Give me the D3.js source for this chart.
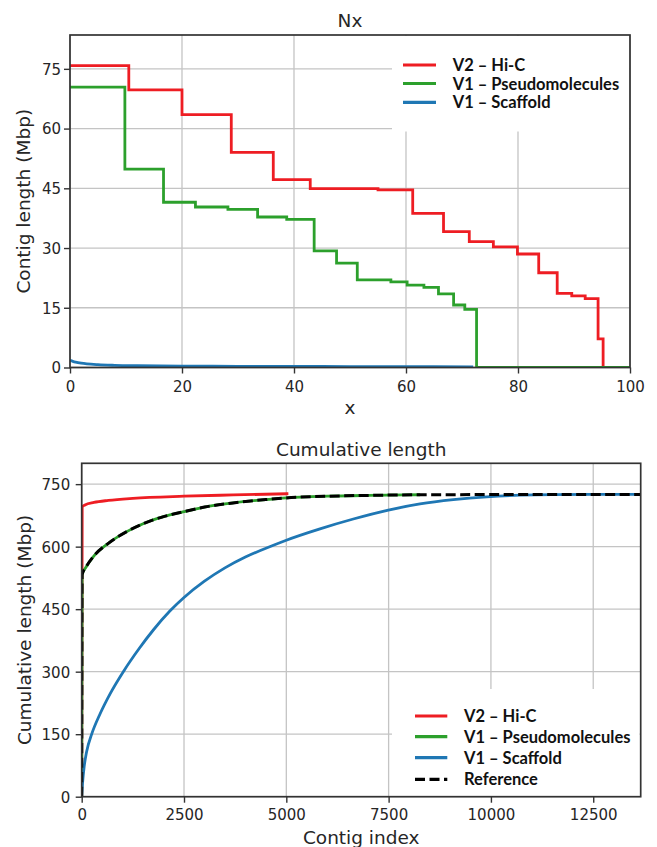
<!DOCTYPE html>
<html><head><meta charset="utf-8">
<script src="https://cdn.jsdelivr.net/npm/d3@7"></script>
<style>body{margin:0;background:#fff}svg{display:block}</style>
</head><body><svg id="c" width="657" height="847"></svg>
<script>
// ---------- Data: Nx panel ----------
const nxTicksX = [0, 20, 40, 60, 80, 100];
const nxTicksY = [0, 15, 30, 45, 60, 75];
const nxHicX = [0, 10.5, 20.0, 28.8, 36.3, 42.9, 55.0, 61.2, 66.7, 71.3, 75.6, 79.9, 83.7, 87.0, 89.6, 92.0, 94.3, 95.2, 100];
const nxHicV = [75.8, 69.7, 63.5, 54.0, 47.2, 44.9, 44.6, 38.7, 34.1, 31.6, 30.3, 28.5, 23.8, 18.6, 18.0, 17.3, 7.2, 0, 0];
const nxPseudoX = [0, 9.8, 16.7, 22.4, 28.2, 33.5, 38.7, 43.6, 47.6, 51.3, 57.3, 60.2, 63.2, 65.8, 68.5, 70.5, 72.6, 100];
const nxPseudoV = [70.4, 49.8, 41.5, 40.3, 39.7, 37.8, 37.2, 29.3, 26.2, 22.0, 21.5, 20.7, 20.1, 18.5, 15.7, 14.6, 0, 0];
const nxScafX = [0, 0.5, 1, 2, 3, 5, 8, 12, 20, 30, 45, 60, 72];
const nxScafV = [1.8, 1.55, 1.35, 1.08, 0.9, 0.7, 0.55, 0.45, 0.36, 0.3, 0.25, 0.2, 0.18];

// ---------- Data: Cumulative panel ----------
const cumTicksX = [0, 2500, 5000, 7500, 10000, 12500];
const cumTicksY = [0, 150, 300, 450, 600, 750];
const cumHicIdx = [0, 12, 80, 300, 650, 1250, 2500, 3700, 5050];
const cumHicV = [0, 695, 700, 706, 711, 716, 721, 724, 727];
const cumPseudoIdx = [0, 10, 100, 300, 650, 1100, 1500, 2000, 2500, 3000, 3700, 4500, 5000, 6000, 7000, 8270];
const cumPseudoV = [0, 533, 550, 578, 608, 636, 655, 672, 684, 695, 705, 713, 717, 721, 723, 724.5];
const cumScafIdx = [0, 25, 60, 120, 244, 450, 700, 1017, 1400, 1750, 2160, 2500, 3000, 3500, 4000, 4700, 5000, 5823, 6637, 7493, 8267, 9081, 9897, 10711, 11500, 12500, 13660];
const cumScafV = [0, 38, 72, 108, 150, 199, 248, 300, 355, 400, 446, 478, 517, 549, 575, 604, 615.5, 642.7, 666.3, 687.7, 702.4, 712.6, 719.5, 723.6, 725, 725.3, 725.4];
const cumRefIdx = [0, 10, 100, 300, 650, 1100, 1500, 2000, 2500, 3000, 3700, 4500, 5000, 6000, 7000, 8270, 13660];
const cumRefV = [0, 533, 550, 578, 608, 636, 655, 672, 684, 695, 705, 713, 717, 721, 723, 724.5, 725.4];

const legendNames = ["V2 \u2013 Hi-C", "V1 \u2013 Pseudomolecules", "V1 \u2013 Scaffold", "Reference"];
const C_RED = "#ee1d23", C_GREEN = "#2ca02c", C_BLUE = "#1f77b4", C_BLACK = "#000";

const svg = d3.select("#c");
svg.append("rect").attr("width", 657).attr("height", 847).attr("fill", "#fff");

const AX_FONT = "'DejaVu Sans', sans-serif";
const TXT = "#262626";

function panel(o) {
  const x = d3.scaleLinear().domain(o.xDomain).range([o.l, o.r]);
  const y = d3.scaleLinear().domain(o.yDomain).range([o.b, o.t]);
  const g = svg.append("g");
  const id = "clip" + o.name;
  svg.append("defs").append("clipPath").attr("id", id)
    .append("rect").attr("x", o.l).attr("y", o.t).attr("width", o.r - o.l).attr("height", o.b - o.t);
  // grid
  const grid = g.append("g").attr("stroke", "#c4c4c4").attr("stroke-width", 1.3);
  o.xTicks.forEach(v => grid.append("line").attr("x1", x(v)).attr("x2", x(v)).attr("y1", o.t).attr("y2", o.b));
  o.yTicks.forEach(v => grid.append("line").attr("x1", o.l).attr("x2", o.r).attr("y1", y(v)).attr("y2", y(v)));
  // legend background (covers grid)
  g.append("rect").attr("x", o.leg.x0).attr("y", o.leg.y0).attr("width", o.leg.x1 - o.leg.x0)
    .attr("height", o.leg.y1 - o.leg.y0).attr("fill", "#fff");
  // series
  const data = g.append("g").attr("clip-path", `url(#${id})`);
  o.series.forEach(s => {
    const pts = s.xs.map((xv, i) => [xv, s.vs[i]]);
    const line = d3.line().x(d => x(d[0])).y(d => y(d[1])).curve(s.curve);
    data.append("path").attr("d", line(pts)).attr("fill", "none")
      .attr("stroke", s.color).attr("stroke-width", s.width || 2.8)
      .attr("stroke-dasharray", s.dash || null).attr("stroke-linejoin", "miter");
  });
  // spines
  g.append("rect").attr("x", o.l).attr("y", o.t).attr("width", o.r - o.l).attr("height", o.b - o.t)
    .attr("fill", "none").attr("stroke", "#333").attr("stroke-width", 1.7);
  // axes ticks
  const xa = d3.axisBottom(x).tickValues(o.xTicks).tickSize(6).tickPadding(4).tickFormat(d3.format("d"));
  const ya = d3.axisLeft(y).tickValues(o.yTicks).tickSize(6).tickPadding(o.yPad).tickFormat(d3.format("d"));
  const gx = g.append("g").attr("transform", `translate(0,${o.b})`).call(xa);
  const gy = g.append("g").attr("transform", `translate(${o.l},0)`).call(ya);
  [gx, gy].forEach(a => {
    a.select(".domain").remove();
    a.selectAll("line").attr("stroke", "#333").attr("stroke-width", 1.4);
    a.selectAll("text").attr("font-family", AX_FONT).attr("font-size", 15).attr("fill", TXT);
  });
  gx.selectAll("text").attr("dy", null).attr("y", o.xTickBase - o.b);
  gy.selectAll("text").attr("dy", "0.36em");
  // title and labels
  const cx = (o.l + o.r) / 2, cy = (o.t + o.b) / 2;
  g.append("text").attr("x", cx).attr("y", o.titleY).attr("text-anchor", "middle")
    .attr("font-family", AX_FONT).attr("font-size", 18.5).attr("fill", TXT).text(o.title);
  g.append("text").attr("x", cx).attr("y", o.xLabelY).attr("text-anchor", "middle")
    .attr("font-family", AX_FONT).attr("font-size", 18.5).attr("fill", TXT).text(o.xLabel);
  g.append("text").attr("transform", `translate(${o.yLabelX},${cy}) rotate(-90)`).attr("text-anchor", "middle")
    .attr("font-family", AX_FONT).attr("font-size", 18.5).attr("fill", TXT).text(o.yLabel);
  // legend entries
  const lg = g.append("g");
  o.leg.items.forEach((it, i) => {
    const yy = o.leg.ys[i];
    lg.append("line").attr("x1", o.leg.sx0).attr("x2", o.leg.sx1).attr("y1", yy).attr("y2", yy)
      .attr("stroke", it.color).attr("stroke-width", 3.2).attr("stroke-dasharray", it.dash || null);
    lg.append("text").attr("x", o.leg.tx).attr("y", yy + 6).attr("font-family", "Lato, 'Open Sans', sans-serif")
      .attr("font-weight", 700).attr("font-size", 16.5).attr("fill", "#111").text(it.name);
  });
}

panel({
  name: "nx", l: 70, r: 630, t: 35, b: 367.5,
  xDomain: [0, 100], yDomain: [0, 83.5], xTicks: nxTicksX, yTicks: nxTicksY, yPad: 3,
  xTickBase: 391.5, title: "Nx", titleY: 27, xLabel: "x", xLabelY: 413.5,
  yLabel: "Contig length (Mbp)", yLabelX: 30,
  series: [
    { xs: nxHicX, vs: nxHicV, color: C_RED, curve: d3.curveStepAfter },
    { xs: nxPseudoX, vs: nxPseudoV, color: C_GREEN, curve: d3.curveStepAfter },
    { xs: nxScafX, vs: nxScafV, color: C_BLUE, curve: d3.curveMonotoneX }
  ],
  leg: { x0: 392, x1: 629, y0: 36, y1: 131.5, sx0: 403, sx1: 436, tx: 452.7, ys: [65, 83.5, 102.3],
    items: [{ name: legendNames[0], color: C_RED }, { name: legendNames[1], color: C_GREEN }, { name: legendNames[2], color: C_BLUE }] }
});

panel({
  name: "cum", l: 81.7, r: 640.7, t: 463.3, b: 796.7,
  xDomain: [0, 13660], yDomain: [0, 800], xTicks: cumTicksX, yTicks: cumTicksY, yPad: 5.5,
  xTickBase: 820, title: "Cumulative length", titleY: 456, xLabel: "Contig index", xLabelY: 843.5,
  yLabel: "Cumulative length (Mbp)", yLabelX: 31,
  series: [
    { xs: cumHicIdx, vs: cumHicV, color: C_RED, curve: d3.curveMonotoneX },
    { xs: cumPseudoIdx, vs: cumPseudoV, color: C_GREEN, curve: d3.curveMonotoneX },
    { xs: cumScafIdx, vs: cumScafV, color: C_BLUE, curve: d3.curveMonotoneX },
    { xs: cumRefIdx, vs: cumRefV, color: C_BLACK, curve: d3.curveMonotoneX, dash: "10,4.5", width: 3 }
  ],
  leg: { x0: 392, x1: 639.5, y0: 689, y1: 796, sx0: 415, sx1: 447.3, tx: 464, ys: [716, 736.7, 757.7, 779.3],
    items: [{ name: legendNames[0], color: C_RED }, { name: legendNames[1], color: C_GREEN },
            { name: legendNames[2], color: C_BLUE }, { name: legendNames[3], color: C_BLACK, dash: "10,4.5" }] }
});
</script></body></html>
